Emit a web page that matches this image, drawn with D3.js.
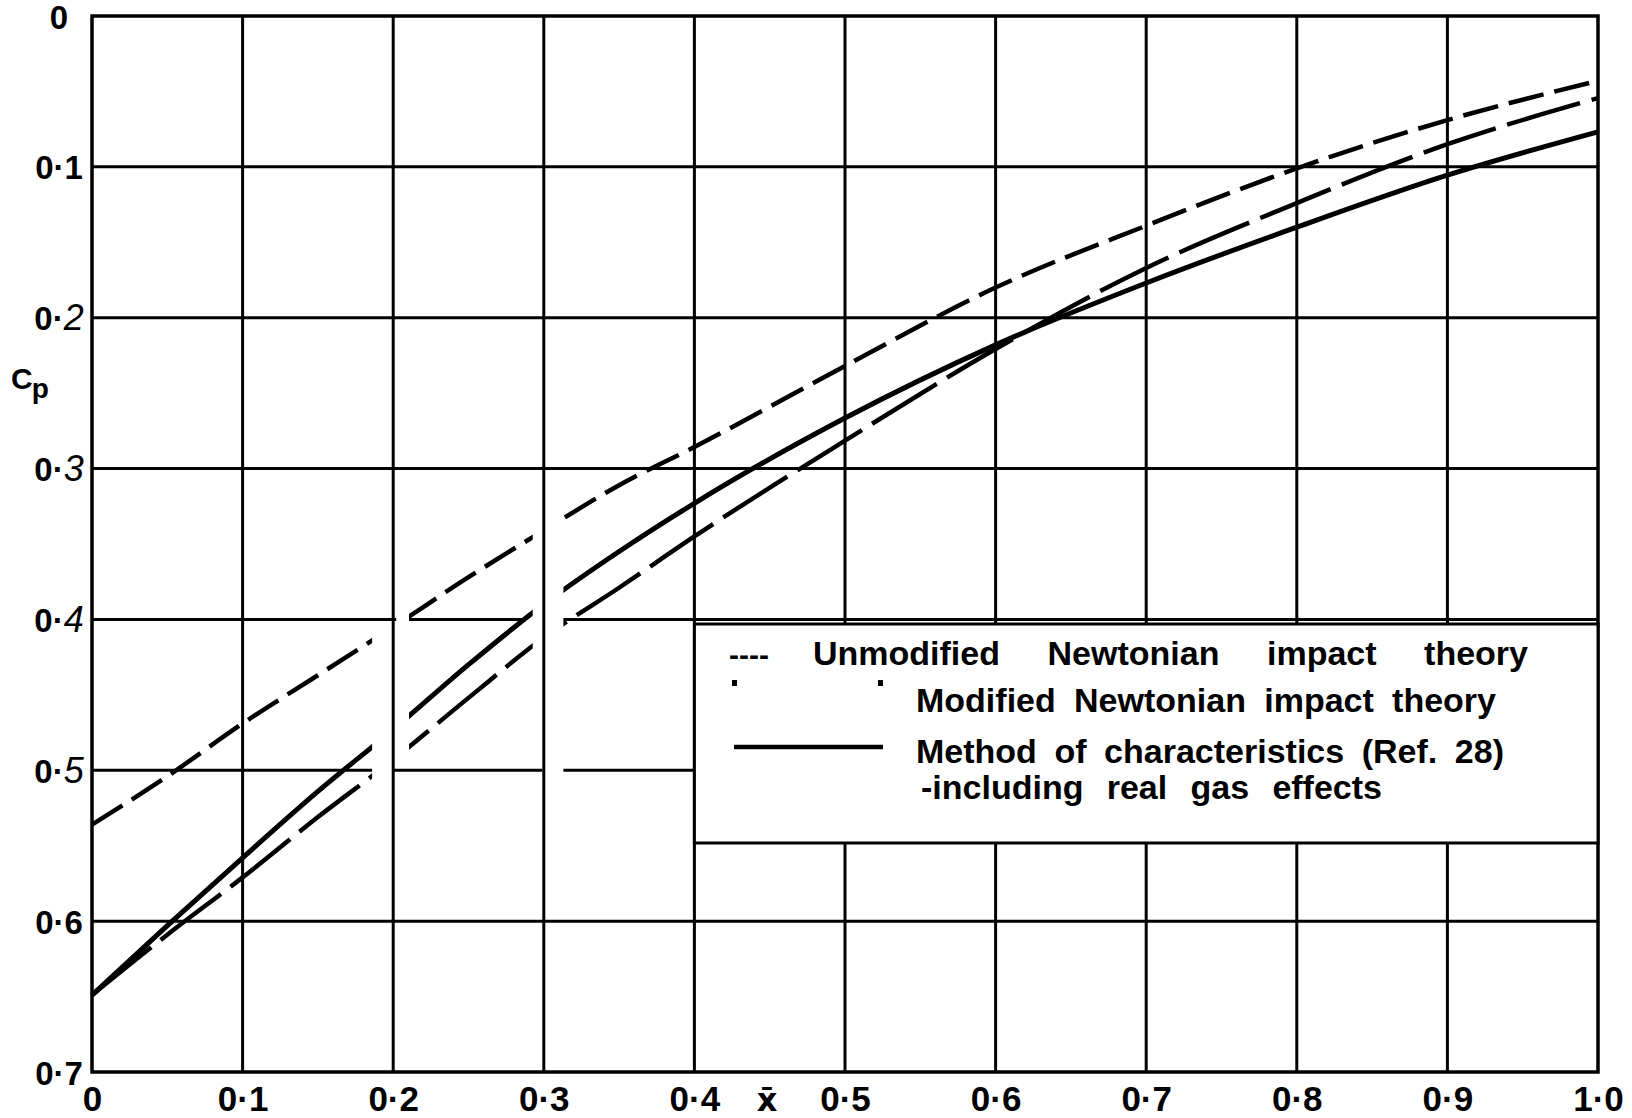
<!DOCTYPE html>
<html>
<head>
<meta charset="utf-8">
<script src="https://cdn.jsdelivr.net/npm/d3@7"></script>
<style>
  body { margin: 0; background: #fff; }
  svg { display: block; }
</style>
</head>
<body>
<div id="chart"></div>
<script>
// pressure coefficient along the body, three theories compared
var svgWidth = 1632;
var svgHeight = 1118;

var margin = { top: 16, right: 34, bottom: 46, left: 92 };
var width = svgWidth - margin.left - margin.right;
var height = svgHeight - margin.top - margin.bottom;

// -----------------------------------------------------------------------------
// data
var xBar = [0, 0.05, 0.1, 0.15, 0.2, 0.25, 0.3, 0.35, 0.4, 0.5, 0.6, 0.7, 0.8, 0.9, 1.0];
var cpUnmodified = [0.536, 0.504, 0.469, 0.437, 0.405, 0.372, 0.341, 0.311, 0.2857, 0.232, 0.180, 0.139, 0.101, 0.069, 0.043];
var cpModified = [0.649, 0.609, 0.571, 0.531, 0.493, 0.452, 0.412, 0.379, 0.345, 0.2815, 0.2207, 0.167, 0.124, 0.085, 0.0544];
var cpCharacteristics = [0.649, 0.603, 0.558, 0.514, 0.473, 0.430, 0.390, 0.355, 0.323, 0.2665, 0.218, 0.177, 0.140, 0.1055, 0.0768];

var xTicks = [0, 0.1, 0.2, 0.3, 0.4, 0.5, 0.6, 0.7, 0.8, 0.9, 1.0];
var xTickLabels = ["0", "0·1", "0·2", "0·3", "0·4", "0·5", "0·6", "0·7", "0·8", "0·9", "1·0"];
var yTicks = [0, 0.1, 0.2, 0.3, 0.4, 0.5, 0.6, 0.7];
var yTickLabels = ["0", "0·1", "0·2", "0·3", "0·4", "0·5", "0·6", "0·7"];

var legendRows = [
  "Unmodified Newtonian impact theory",
  "Modified Newtonian impact theory",
  "Method of characteristics (Ref. 28)",
  "-including real gas effects"
];

// blank strips in the original drawing (x bar ranges)
var curveGaps = [[0.186, 0.2105], [0.286, 0.313]];
var gridGaps = {
  "0.4": [[0.202, 0.2105], [0.286, 0.313]],
  "0.5": [[0.186, 0.2], [0.299, 0.313]]
};

// -----------------------------------------------------------------------------
var svg = d3.select("#chart")
  .append("svg")
  .attr("width", svgWidth)
  .attr("height", svgHeight);

var chartGroup = svg.append("g")
  .attr("transform", `translate(${margin.left}, ${margin.top})`);

var xScale = d3.scaleLinear().domain([0, 1]).range([0, width]);
var yScale = d3.scaleLinear().domain([0, 0.7]).range([0, height]);

// turns a list of gaps into the pieces that stay visible
function segments(gaps) {
  var segs = [];
  var start = 0;
  gaps.forEach(function(g) {
    segs.push([start, g[0]]);
    start = g[1];
  });
  segs.push([start, 1]);
  return segs;
}

// vertical grid lines
chartGroup.selectAll(".vgrid")
  .data(xTicks.slice(1, -1))
  .enter()
  .append("line")
  .attr("class", "vgrid")
  .attr("x1", d => xScale(d))
  .attr("x2", d => xScale(d))
  .attr("y1", 0)
  .attr("y2", height)
  .attr("stroke", "#000")
  .attr("stroke-width", 3);

// horizontal grid lines, broken where the drawing is blank
yTicks.slice(1, -1).forEach(function(v) {
  var gaps = gridGaps[String(v)] || [];
  chartGroup.selectAll(null)
    .data(segments(gaps))
    .enter()
    .append("line")
    .attr("x1", d => xScale(d[0]))
    .attr("x2", d => xScale(d[1]))
    .attr("y1", yScale(v))
    .attr("y2", yScale(v))
    .attr("stroke", "#000")
    .attr("stroke-width", 3);
});

// clip for the curves so the blank strips show
var clip = chartGroup.append("clipPath").attr("id", "curveClip");
clip.selectAll("rect")
  .data(segments(curveGaps))
  .enter()
  .append("rect")
  .attr("x", d => d[0] === 0 ? -10 : xScale(d[0]))
  .attr("width", d => xScale(d[1]) - xScale(d[0]) + 10)
  .attr("y", -10)
  .attr("height", height + 20);

var line = d3.line()
  .x((d, i) => xScale(xBar[i]))
  .y(d => yScale(d))
  .curve(d3.curveMonotoneX);

var curves = chartGroup.append("g").attr("clip-path", "url(#curveClip)");

curves.append("path")
  .attr("d", line(cpUnmodified))
  .attr("fill", "none")
  .attr("stroke", "#000")
  .attr("stroke-width", 4.5)
  .attr("stroke-dasharray", "36,11");

curves.append("path")
  .attr("d", line(cpModified))
  .attr("fill", "none")
  .attr("stroke", "#000")
  .attr("stroke-width", 4.5)
  .attr("stroke-dasharray", "76,12");

curves.append("path")
  .attr("d", line(cpCharacteristics))
  .attr("fill", "none")
  .attr("stroke", "#000")
  .attr("stroke-width", 5);

// frame
chartGroup.append("rect")
  .attr("x", 0)
  .attr("y", 0)
  .attr("width", width)
  .attr("height", height)
  .attr("fill", "none")
  .attr("stroke", "#000")
  .attr("stroke-width", 3.5);

// -----------------------------------------------------------------------------
// axes, labels only
var bottomAxis = d3.axisBottom(xScale)
  .tickValues(xTicks)
  .tickFormat((d, i) => xTickLabels[i])
  .tickSize(0)
  .tickPadding(0);

var xAxis = chartGroup.append("g")
  .attr("transform", `translate(0, ${height})`)
  .call(bottomAxis);
xAxis.select(".domain").remove();
xAxis.selectAll("text")
  .attr("y", 39)
  .attr("dy", null)
  .attr("fill", "#000")
  .style("font-family", "'Liberation Sans', Arial, sans-serif")
  .style("font-weight", "bold")
  .style("font-size", "35px");

var italicDigitTicks = [0.2, 0.3, 0.4, 0.5];

var leftAxis = d3.axisLeft(yScale)
  .tickValues(yTicks)
  .tickFormat("")
  .tickSize(0);

var yAxis = chartGroup.append("g").call(leftAxis);
yAxis.select(".domain").remove();
yAxis.selectAll(".tick text").remove();
yAxis.selectAll(".tick").each(function(d, i) {
  var t = d3.select(this).append("text")
    .attr("x", -33)
    .attr("y", 12)
    .attr("text-anchor", "middle")
    .attr("fill", "#000")
    .style("font-family", "'Liberation Sans', Arial, sans-serif")
    .style("font-weight", "bold")
    .style("font-size", "33px");
  var label = yTickLabels[i];
  if (italicDigitTicks.indexOf(d) >= 0) {
    t.append("tspan").text(label.slice(0, -1));
    t.append("tspan")
      .style("font-weight", "normal")
      .style("font-style", "italic")
      .style("font-size", "36px")
      .text(label.slice(-1));
  } else {
    t.text(label);
  }
});

// x bar label between 0.4 and 0.5
svg.append("text")
  .attr("x", 767)
  .attr("y", 1111)
  .attr("text-anchor", "middle")
  .style("font-family", "'DejaVu Sans', sans-serif")
  .style("font-weight", "bold")
  .style("font-size", "32px")
  .text("x\u0304");

// Cp label
var cpLabel = svg.append("text")
  .attr("x", 11)
  .attr("y", 389)
  .style("font-family", "'Liberation Sans', Arial, sans-serif")
  .style("font-weight", "bold")
  .style("font-size", "30px");
cpLabel.append("tspan").text("C");
cpLabel.append("tspan")
  .attr("dy", 9)
  .attr("dx", -1)
  .style("font-size", "28px")
  .text("p");

// -----------------------------------------------------------------------------
// legend box sits on top of the grid
var legendTop = 624;
var legendBottom = 843;
svg.append("rect")
  .attr("x", margin.left + xScale(0.4))
  .attr("y", legendTop)
  .attr("width", width - xScale(0.4))
  .attr("height", legendBottom - legendTop)
  .attr("fill", "#fff")
  .attr("stroke", "#000")
  .attr("stroke-width", 3);

var legendFont = "'Liberation Sans', Arial, sans-serif";

// spreads the words so each row spans the same width as in the figure
function fitRow(sel, x0, x1) {
  var natural = sel.node().getComputedTextLength();
  var spaces = (sel.text().match(/ /g) || []).length;
  if (spaces > 0) sel.style("word-spacing", ((x1 - x0 - natural) / spaces) + "px");
}

var rowPlaces = [
  { x0: 813, x1: 1528, y: 665 },
  { x0: 916, x1: 1496, y: 712 },
  { x0: 916, x1: 1504, y: 763 },
  { x0: 921, x1: 1382, y: 799 }
];

legendRows.forEach(function(txt, i) {
  var p = rowPlaces[i];
  var t = svg.append("text")
    .attr("x", p.x0)
    .attr("y", p.y)
    .style("font-family", legendFont)
    .style("font-weight", "bold")
    .style("font-size", "34px")
    .text(txt);
  fitRow(t, p.x0, p.x1);
});

// symbols
svg.append("text")
  .attr("x", 729)
  .attr("y", 665)
  .style("font-family", legendFont)
  .style("font-weight", "bold")
  .style("font-size", "30px")
  .text("----");

svg.append("line")
  .attr("x1", 732)
  .attr("x2", 883)
  .attr("y1", 683)
  .attr("y2", 683)
  .attr("stroke", "#000")
  .attr("stroke-width", 6)
  .attr("stroke-dasharray", "5,141");

svg.append("line")
  .attr("x1", 734)
  .attr("x2", 883)
  .attr("y1", 747)
  .attr("y2", 747)
  .attr("stroke", "#000")
  .attr("stroke-width", 4.5);
</script>
</body>
</html>
